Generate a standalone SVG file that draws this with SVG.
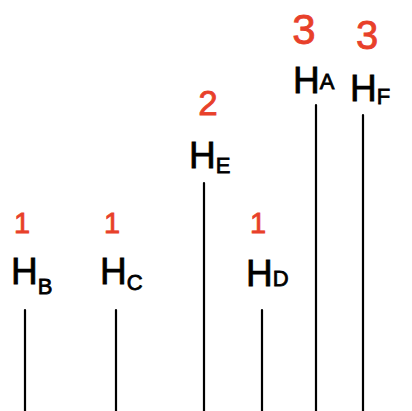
<svg xmlns="http://www.w3.org/2000/svg" width="412" height="411" viewBox="0 0 412 411">
<style>
.lbl{font-family:"Liberation Sans",Arial,sans-serif;fill:#000;stroke:#000;stroke-width:0.8;font-size:37px}
.sub{font-size:22px}
.num{font-family:"Liberation Sans",Arial,sans-serif;fill:#e8402a;stroke:#e8402a;stroke-width:0.8;text-anchor:middle}
.stem{stroke:#000;stroke-width:2.2;fill:none;stroke-linecap:round}
</style>
<rect width="412" height="411" fill="#fff"/>
<g id="stems">
<line class="stem" x1="25" y1="310" x2="25" y2="411"/>
<line class="stem" x1="116" y1="310" x2="116" y2="411"/>
<line class="stem" x1="204" y1="183" x2="204" y2="411"/>
<line class="stem" x1="262" y1="310" x2="262" y2="411"/>
<line class="stem" x1="316" y1="105" x2="316" y2="411"/>
<line class="stem" x1="363" y1="115" x2="363" y2="411"/>
</g>
<g id="HB">
<text class="num" x="22" y="233" font-size="29">1</text>
<text class="lbl" x="11" y="284">H<tspan class="sub" dy="10">B</tspan></text>
</g>
<g id="HC">
<text class="num" x="112" y="233" font-size="29">1</text>
<text class="lbl" x="100" y="284">H<tspan class="sub" dy="6">C</tspan></text>
</g>
<g id="HE">
<text class="num" x="208" y="115" font-size="35">2</text>
<text class="lbl" x="189" y="168">H<tspan class="sub" dy="5">E</tspan></text>
</g>
<g id="HD">
<text class="num" x="258" y="233" font-size="29">1</text>
<text class="lbl" x="246" y="286">H<tspan class="sub" dy="0">D</tspan></text>
</g>
<g id="HA">
<text class="num" x="304" y="44" font-size="42">3</text>
<text class="lbl" x="293" y="93">H<tspan class="sub" dy="-4">A</tspan></text>
</g>
<g id="HF">
<text class="num" x="367" y="49" font-size="40">3</text>
<text class="lbl" x="350" y="101">H<tspan class="sub" dy="3">F</tspan></text>
</g>
</svg>
